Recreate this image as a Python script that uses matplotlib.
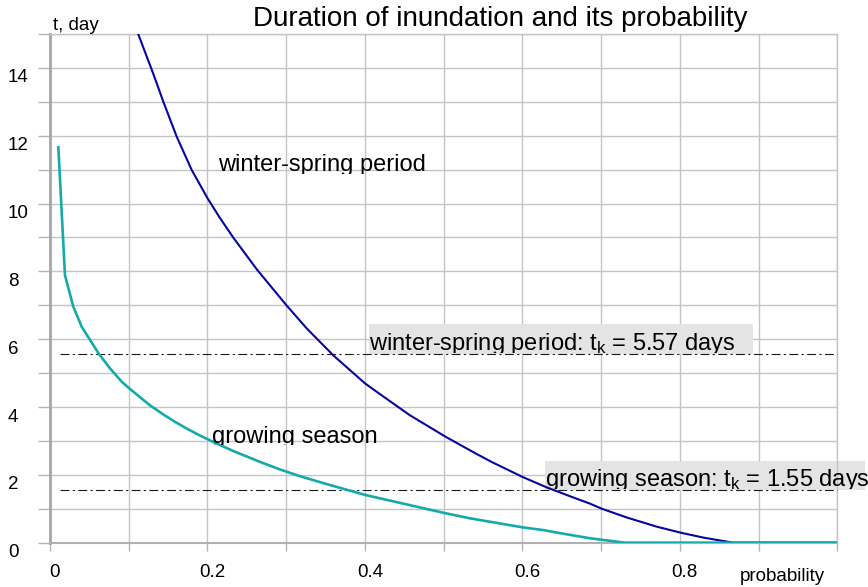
import matplotlib.pyplot as plt
from matplotlib.patches import Rectangle
from matplotlib.transforms import Bbox, TransformedBbox, ScaledTranslation

plt.rcParams['font.family'] = ['Liberation Sans', 'DejaVu Sans']
plt.rcParams['mathtext.default'] = 'regular'

# winter-spring period curve (probability, days)
prob_ws = [0.112, 0.131, 0.144, 0.161, 0.180, 0.200, 0.216, 0.233, 0.263, 0.300,
           0.326, 0.360, 0.400, 0.421, 0.457, 0.502, 0.540, 0.561, 0.601, 0.631,
           0.665, 0.686, 0.701, 0.733, 0.771, 0.802, 0.830, 0.855, 0.868, 1.000]
days_ws = [15.0, 13.84, 13.0, 11.97, 10.99, 10.16, 9.57, 8.99, 8.05, 7.01,
           6.32, 5.52, 4.70, 4.35, 3.76, 3.13, 2.64, 2.38, 1.93, 1.63,
           1.33, 1.15, 1.00, 0.74, 0.47, 0.29, 0.15, 0.05, 0.0, 0.0]

# growing season curve
prob_gs = [0.0106, 0.019, 0.0296, 0.0402, 0.0508, 0.0614, 0.0762, 0.091, 0.1007, 0.1164,
           0.127, 0.144, 0.159, 0.1757, 0.1905, 0.2074, 0.233, 0.267, 0.292, 0.3175,
           0.3556, 0.400, 0.432, 0.502, 0.533, 0.601, 0.627, 0.648, 0.686, 0.730, 1.000]
days_gs = [11.66, 7.89, 6.96, 6.37, 5.98, 5.59, 5.14, 4.75, 4.55, 4.25,
           4.05, 3.78, 3.56, 3.34, 3.16, 2.97, 2.70, 2.38, 2.16, 1.96,
           1.70, 1.41, 1.24, 0.87, 0.72, 0.45, 0.37, 0.28, 0.13, 0.0, 0.0]

tk_ws = 5.57
tk_gs = 1.55
tk_start, tk_end = 0.0127, 1.0

yticks = list(range(0, 16))
ylabels = [str(v) if v % 2 == 0 and v < 15 else '' for v in yticks]
xticks = [i / 10 for i in range(11)]
xlabels = ['0', '', '0.2', '', '0.4', '', '0.6', '', '0.8', '', '']

fig = plt.figure(figsize=(8.68, 5.87), dpi=100)
ax = fig.add_axes([0.0576, 0.0755, 0.9070, 0.8666])
ax.set_axisbelow(True)

ax.plot(prob_ws, days_ws, color='#0505a0', lw=1.5, zorder=4)
ax.plot(prob_gs, days_gs, color='#14aaaa', lw=1.9, zorder=5)

ax.plot([tk_start, tk_end], [tk_ws, tk_ws], color='#1a1a1a', lw=0.8,
        dashes=(8, 3, 2, 3), zorder=3, clip_on=False)
ax.plot([tk_start, tk_end], [tk_gs, tk_gs], color='#1a1a1a', lw=0.8,
        dashes=(8, 3, 2, 3), zorder=3, clip_on=False)

# gray label boxes
ax.add_patch(Rectangle((0.4055, tk_ws), 0.488, 0.88, facecolor='#e4e4e4',
                       edgecolor='none', zorder=2))
ax.add_patch(Rectangle((0.6287, tk_gs), 0.406, 0.87, facecolor='#e4e4e4',
                       edgecolor='none', zorder=2, clip_on=False))

def clipped_text(x, y, s, bottom, right):
    t = ax.text(x, y, s, fontsize=17, ha='left', va='baseline', zorder=6,
                clip_on=True)
    t.set_clip_box(TransformedBbox(Bbox([[x - 0.01, bottom], [right, y + 2]]),
                                   ax.transData))
    return t

clipped_text(0.4055, 5.67, 'winter-spring period: t$_k$ = 5.57 days', tk_ws + 0.02, 0.95)
clipped_text(0.6287, 1.68, 'growing season: t$_k$ = 1.55 days', tk_gs + 0.02, 1.1)
clipped_text(0.2134, 10.95, 'winter-spring period', 10.88, 0.7)
clipped_text(0.2053, 2.93, 'growing season', 2.88, 0.6)

ax.set_xlim(0, 1.0)
ax.set_ylim(0, 15)
ax.set_xticks(xticks, xlabels)
ax.set_yticks(yticks, ylabels)
ax.grid(True, color='#c4c4c4', lw=1.0)

ax.tick_params(axis='y', length=8.6, width=1, color='#b4b4b4', pad=21.6,
               labelsize=13.5)
ax.tick_params(axis='x', length=5.8, width=1, color='#b4b4b4', pad=9.5,
               labelsize=13.5)
for lab in ax.get_yticklabels():
    lab.set_ha('left')
    lab.set_transform(lab.get_transform() + ScaledTranslation(0, -0.08, fig.dpi_scale_trans))
for lab in ax.get_xticklabels():
    lab.set_transform(lab.get_transform() + ScaledTranslation(0.05, 0, fig.dpi_scale_trans))

ax.spines['left'].set_color('#a6a6a6')
ax.spines['left'].set_linewidth(2)
ax.spines['bottom'].set_color('#b0b0b0')
ax.spines['bottom'].set_linewidth(1.5)
for s in ['top', 'right']:
    ax.spines[s].set_color('#c4c4c4')
    ax.spines[s].set_linewidth(1.0)

fig.text(500 / 868, 1 - 25.5 / 587, 'Duration of inundation and its probability',
         fontsize=20, ha='center', va='baseline')
fig.text(53 / 868, 1 - 30 / 587, 't, day', fontsize=13.5, va='baseline')
fig.text(740 / 868, 6 / 587, 'probability', fontsize=13.5, va='baseline')

fig.savefig('out.png', dpi=100)
